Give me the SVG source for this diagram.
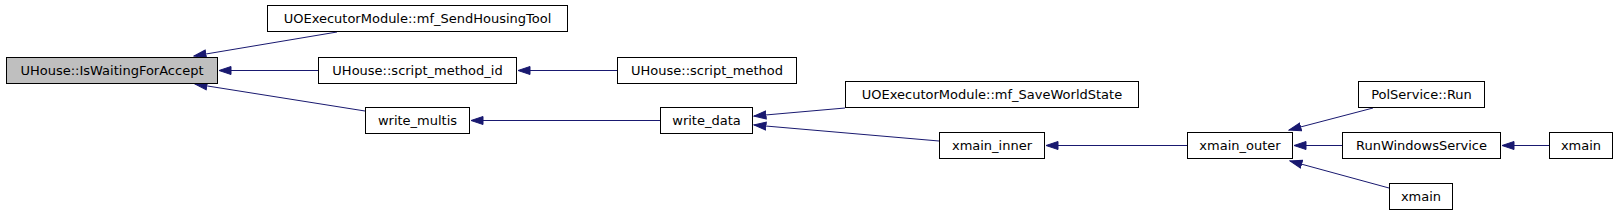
<svg xmlns="http://www.w3.org/2000/svg" width="1619" height="215" viewBox="0 0 1619 215">
<style>
.node rect{fill:#ffffff;stroke:#000000;stroke-width:1}
.node.cur rect{fill:#bfbfbf}
.node text{font-family:"DejaVu Sans","Liberation Sans",sans-serif;font-size:13px;fill:#000000;text-anchor:middle}
.edges path{fill:none;stroke:#191970;stroke-width:1;marker-end:url(#arr)}
</style>
<defs>
<marker id="arr" markerUnits="userSpaceOnUse" markerWidth="14" markerHeight="10" viewBox="0 0 14 10" refX="12.5" refY="5" orient="auto">
<path d="M0.5,1 L12.5,5 L0.5,9 Z" fill="#191970" stroke="#191970" stroke-width="1"/>
</marker>
</defs>
<rect width="1619" height="215" fill="#ffffff"/>
<g id="edges" class="edges">
<path d="M337,32 L194,56"/>
<path d="M318,70.5 L219,70.5"/>
<path d="M365,111 L195,84"/>
<path d="M617,70.5 L518,70.5"/>
<path d="M660,120.5 L471,120.5"/>
<path d="M845,108 L754,116"/>
<path d="M939,141 L754,125"/>
<path d="M1187,145.5 L1046,145.5"/>
<path d="M1373,108 L1289,130"/>
<path d="M1342,145.5 L1294,145.5"/>
<path d="M1389,188 L1290,161"/>
<path d="M1549,145.5 L1502,145.5"/>
</g>
<g id="n0" class="node cur"><rect x="6.5" y="57.5" width="211" height="26"/><text x="112" y="75">UHouse::IsWaitingForAccept</text></g>
<g id="n1" class="node"><rect x="267.5" y="5.5" width="300" height="26"/><text x="417.5" y="23">UOExecutorModule::mf_SendHousingTool</text></g>
<g id="n2" class="node"><rect x="318.5" y="57.5" width="198" height="26"/><text x="417.5" y="75">UHouse::script_method_id</text></g>
<g id="n3" class="node"><rect x="365.5" y="107.5" width="104" height="26"/><text x="417.5" y="125">write_multis</text></g>
<g id="n4" class="node"><rect x="617.5" y="57.5" width="179" height="26"/><text x="707" y="75">UHouse::script_method</text></g>
<g id="n5" class="node"><rect x="660.5" y="107.5" width="92" height="26"/><text x="706.5" y="125">write_data</text></g>
<g id="n6" class="node"><rect x="845.5" y="81.5" width="293" height="26"/><text x="992" y="99">UOExecutorModule::mf_SaveWorldState</text></g>
<g id="n7" class="node"><rect x="939.5" y="132.5" width="105" height="26"/><text x="992" y="150">xmain_inner</text></g>
<g id="n8" class="node"><rect x="1187.5" y="132.5" width="105" height="26"/><text x="1240" y="150">xmain_outer</text></g>
<g id="n9" class="node"><rect x="1358.5" y="81.5" width="126" height="26"/><text x="1421.5" y="99">PolService::Run</text></g>
<g id="n10" class="node"><rect x="1342.5" y="132.5" width="158" height="26"/><text x="1421.5" y="150">RunWindowsService</text></g>
<g id="n11" class="node"><rect x="1549.5" y="132.5" width="63" height="26"/><text x="1581" y="150">xmain</text></g>
<g id="n12" class="node"><rect x="1389.5" y="183.5" width="63" height="26"/><text x="1421" y="201">xmain</text></g>
</svg>
